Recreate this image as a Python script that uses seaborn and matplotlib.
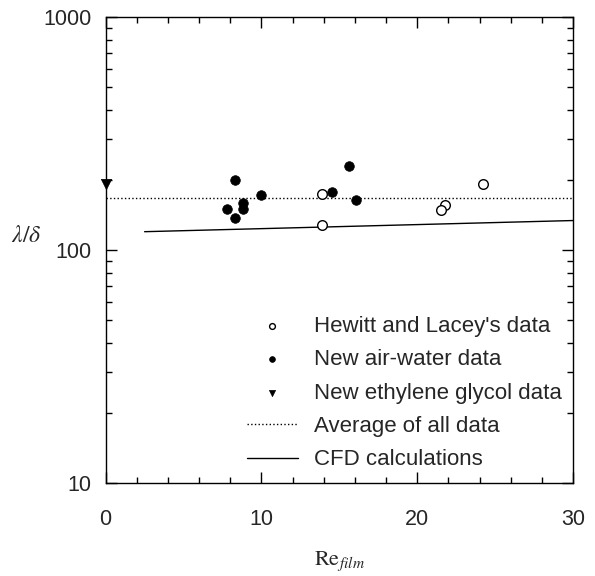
import numpy as np
import pandas as pd
import seaborn as sns
import matplotlib.pyplot as plt
from matplotlib.ticker import MultipleLocator, LogLocator, NullFormatter

# datos
hewitt_re = [13.9, 13.9, 21.8, 21.5, 24.2]
hewitt_ld = [174, 128, 157, 148, 192]

aw_re = [8.3, 10.0, 8.8, 8.8, 7.8, 8.3, 15.6, 14.5, 16.1]
aw_ld = [200, 173, 160, 150, 150, 138, 230, 177, 164]

eg_re = [0.0]
eg_ld = [193]

avg_re = [0, 30]
avg_ld = [168, 168]

cfd_re = [2.5, 30]
cfd_ld = [120, 134]

sns.set_style("ticks")
plt.rcParams['font.family'] = ['Liberation Sans', 'DejaVu Sans']
plt.rcParams['mathtext.fontset'] = 'stix'

fig = plt.figure(figsize=(5.95, 5.76), dpi=100)
ax = fig.add_axes([0.1776, 0.1615, 0.7854, 0.8085])

sns.scatterplot(x=hewitt_re, y=hewitt_ld, ax=ax, marker='o', s=48, facecolor='white',
                edgecolor='black', linewidth=1.0, label="Hewitt and Lacey's data", zorder=3)
sns.scatterplot(x=aw_re, y=aw_ld, ax=ax, marker='o', s=48, color='black',
                edgecolor='black', linewidth=0.5, label='New air-water data', zorder=3)
sns.scatterplot(x=eg_re, y=eg_ld, ax=ax, marker='v', s=55, color='black',
                edgecolor='black', linewidth=0.5, label='New ethylene glycol data', zorder=4,
                clip_on=False)
sns.lineplot(x=avg_re, y=avg_ld, ax=ax, color='black', linestyle=':', linewidth=1.0,
             label='Average of all data')
sns.lineplot(x=cfd_re, y=cfd_ld, ax=ax, color='black', linestyle='-', linewidth=1.0,
             label='CFD calculations')

ax.set_yscale('log')
ax.set_xlim(0, 30)
ax.set_ylim(10, 1000)
ax.xaxis.set_major_locator(MultipleLocator(10))
ax.xaxis.set_minor_locator(MultipleLocator(2))
ax.yaxis.set_minor_locator(LogLocator(base=10, subs=np.arange(2, 10)))
ax.yaxis.set_minor_formatter(NullFormatter())
ax.set_yticks([10, 100, 1000])
ax.set_yticklabels(['10', '100', '1000'])

ax.tick_params(which='both', direction='in', top=True, right=True, labelsize=15.5,
               color='black', width=1.0)
ax.tick_params(which='major', length=8)
ax.tick_params(which='minor', length=4)
ax.tick_params(axis='x', which='major', pad=19)
ax.tick_params(axis='y', which='major', pad=10)
for s in ax.spines.values():
    s.set_color('black')
    s.set_linewidth(1.0)

ax.set_xlabel(r'$\mathrm{Re}_{\mathit{film}}$', fontsize=16, labelpad=14)
ax.set_ylabel(r'$\lambda/\delta$', fontsize=17, rotation=0, va='center', ha='center')
ax.yaxis.set_label_coords(-0.17, 0.53)

ax.legend(loc='lower right', bbox_to_anchor=(1.018, -0.016), frameon=False, fontsize=16,
          markerscale=0.6, handlelength=2.3, labelspacing=0.56, handletextpad=0.7)

plt.savefig('out.png', dpi=100)
